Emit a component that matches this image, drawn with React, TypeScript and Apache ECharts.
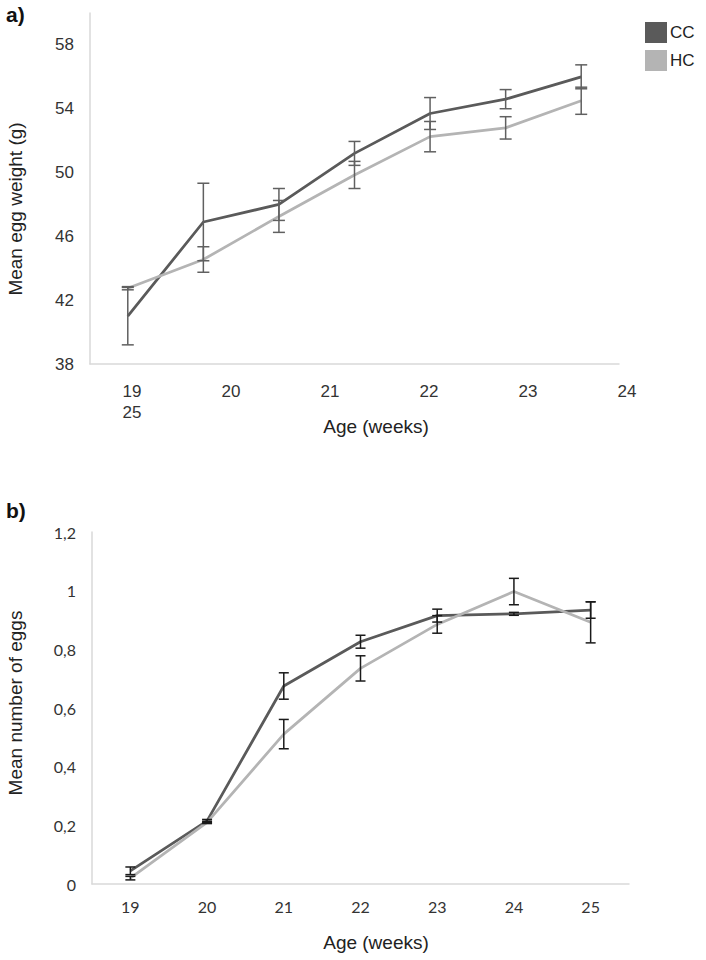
import React, { useEffect, useRef } from "react";
import * as echarts from "echarts";

const weeks = ["19", "20", "21", "22", "23", "24", "25"];
const topTickLabels = ["19\n25", "20", "21", "22", "23", "24"];

const weightCC = [41.0, 46.9, 48.0, 51.2, 53.7, 54.6, 56.0];
const weightCCErr = [1.8, 2.43, 1.0, 0.75, 1.0, 0.6, 0.75];
const weightHC = [42.75, 44.55, 47.25, 49.85, 52.25, 52.8, 54.5];
const weightHCErr = [0.1, 0.8, 1.0, 0.85, 0.95, 0.7, 0.85];

const eggsCC = [0.045, 0.215, 0.675, 0.826, 0.915, 0.921, 0.934];
const eggsCCErr = [0.013, 0.005, 0.045, 0.022, 0.022, 0.005, 0.028];
const eggsHC = [0.02, 0.21, 0.511, 0.735, 0.885, 0.997, 0.892];
const eggsHCErr = [0.006, 0.004, 0.05, 0.043, 0.03, 0.045, 0.07];

const CC_COLOR = "#5a5a5a";
const HC_COLOR = "#b4b4b4";
const AXIS_COLOR = "#d9d9d9";
const ARIAL = "'Liberation Sans', Arial, sans-serif";
const CALIBRI = "Lato, 'Open Sans', sans-serif";

function errData(vals: number[], errs: number[]) {
  return vals.map((v, i) => [i, v - errs[i], v + errs[i]]);
}

function errSeries(name: string, vals: number[], errs: number[], axis: number, color: string, capHalf: number) {
  return {
    type: "custom",
    name,
    xAxisIndex: axis,
    yAxisIndex: axis,
    data: errData(vals, errs),
    encode: { x: 0, y: [1, 2] },
    z: 5,
    renderItem: (params: any, api: any) => {
      const x = api.value(0);
      const lo = api.value(1);
      const hi = api.value(2);
      const top = api.coord([x, hi]);
      const bot = api.coord([x, lo]);
      const style = { stroke: color, lineWidth: 1.5 };
      return {
        type: "group",
        children: [
          { type: "line", shape: { x1: top[0], y1: top[1], x2: bot[0], y2: bot[1] }, style },
          { type: "line", shape: { x1: top[0] - capHalf, y1: top[1], x2: top[0] + capHalf, y2: top[1] }, style },
          { type: "line", shape: { x1: bot[0] - capHalf, y1: bot[1], x2: bot[0] + capHalf, y2: bot[1] }, style },
        ],
      };
    },
  };
}

function lineSeries(name: string, data: number[], axis: number, color: string) {
  return {
    type: "line",
    name,
    xAxisIndex: axis,
    yAxisIndex: axis,
    data,
    symbol: "none",
    showSymbol: false,
    lineStyle: { color, width: 2.75 },
    itemStyle: { color },
    z: 3,
  };
}

export default function App() {
  const ref = useRef<HTMLDivElement>(null);
  useEffect(() => {
    if (!ref.current) return;
    const chart = echarts.init(ref.current, undefined, { renderer: "svg" });
    const option: any = {
      animation: false,
      backgroundColor: "#ffffff",
      grid: [
        { left: 90, right: 87, top: 13, height: 351, outerBoundsMode: "none" },
        { left: 132, right: 79, top: 13, height: 351, outerBoundsMode: "none" },
        { left: 92, right: 77, top: 532, height: 352, outerBoundsMode: "none" },
      ],
      legend: {
        data: ["CC", "HC"],
        orient: "vertical",
        left: 645,
        top: 22,
        padding: 0,
        icon: "rect",
        itemWidth: 22,
        itemHeight: 21,
        itemGap: 7,
        textStyle: { fontFamily: ARIAL, fontSize: 17, color: "#222", padding: [0, 0, 0, -2] },
        selectedMode: false,
      },
      xAxis: [
        {
          gridIndex: 0,
          type: "category",
          data: weeks,
          boundaryGap: true,
          axisLine: { lineStyle: { color: AXIS_COLOR, width: 1.5 } },
          axisTick: { show: false },
          axisLabel: { show: false },
          splitLine: { show: false },
        },
        {
          gridIndex: 1,
          type: "category",
          data: topTickLabels,
          boundaryGap: false,
          axisLine: { show: false },
          axisTick: { show: false },
          splitLine: { show: false },
          axisLabel: {
            interval: 0,
            margin: 17,
            fontFamily: ARIAL,
            fontSize: 17,
            lineHeight: 21,
            color: "#333",
          },
        },
        {
          gridIndex: 2,
          type: "category",
          data: weeks,
          boundaryGap: true,
          axisLine: { lineStyle: { color: AXIS_COLOR, width: 1.5 } },
          axisTick: { show: false },
          splitLine: { show: false },
          axisLabel: {
            interval: 0,
            margin: 14,
            fontFamily: CALIBRI,
            fontSize: 16,
            color: "#333",
          },
        },
      ],
      yAxis: [
        {
          gridIndex: 0,
          type: "value",
          min: 38,
          max: 60,
          interval: 4,
          axisLine: { show: true, lineStyle: { color: AXIS_COLOR, width: 1.5 } },
          axisTick: { show: false },
          splitLine: { show: false },
          axisLabel: {
            showMaxLabel: false,
            margin: 16,
            fontFamily: ARIAL,
            fontSize: 17,
            color: "#333",
          },
        },
        { gridIndex: 1, type: "value", min: 0, max: 1, show: false },
        {
          gridIndex: 2,
          type: "value",
          min: 0,
          max: 1.2,
          interval: 0.2,
          axisLine: { show: true, lineStyle: { color: AXIS_COLOR, width: 1.5 } },
          axisTick: { show: false },
          splitLine: { show: false },
          axisLabel: {
            margin: 16,
            fontFamily: CALIBRI,
            fontSize: 16,
            color: "#333",
            formatter: (v: number) => String(Math.round(v * 10) / 10).replace(".", ","),
          },
        },
      ],
      graphic: [
        { type: "text", left: 6, top: 4, style: { text: "a)", font: `bold 21px ${ARIAL}`, fill: "#111" } },
        { type: "text", left: 6, top: 500, style: { text: "b)", font: `bold 21px ${ARIAL}`, fill: "#111" } },
        {
          type: "text",
          x: 15,
          y: 209,
          rotation: Math.PI / 2,
          style: { text: "Mean egg weight (g)", font: `19px ${ARIAL}`, fill: "#222", align: "center", verticalAlign: "middle" },
        },
        {
          type: "text",
          x: 376,
          y: 426,
          style: { text: "Age (weeks)", font: `19px ${ARIAL}`, fill: "#222", align: "center", verticalAlign: "middle" },
        },
        {
          type: "text",
          x: 15,
          y: 703,
          rotation: Math.PI / 2,
          style: { text: "Mean number of eggs", font: `19px ${ARIAL}`, fill: "#222", align: "center", verticalAlign: "middle" },
        },
        {
          type: "text",
          x: 376,
          y: 942,
          style: { text: "Age (weeks)", font: `19px ${ARIAL}`, fill: "#222", align: "center", verticalAlign: "middle" },
        },
      ],
      series: [
        lineSeries("CC", weightCC, 0, CC_COLOR),
        lineSeries("HC", weightHC, 0, HC_COLOR),
        errSeries("CC error", weightCC, weightCCErr, 0, "#606060", 6),
        errSeries("HC error", weightHC, weightHCErr, 0, "#606060", 6),
        lineSeries("CC", eggsCC, 2, CC_COLOR),
        lineSeries("HC", eggsHC, 2, HC_COLOR),
        errSeries("CC error", eggsCC, eggsCCErr, 2, "#1a1a1a", 5),
        errSeries("HC error", eggsHC, eggsHCErr, 2, "#1a1a1a", 5),
      ],
    };
    chart.setOption(option);
    return () => chart.dispose();
  }, []);
  return (
    <div
      ref={ref}
      style={{ position: "fixed", left: 0, top: 0, width: 706, height: 960, background: "#fff" }}
    />
  );
}
